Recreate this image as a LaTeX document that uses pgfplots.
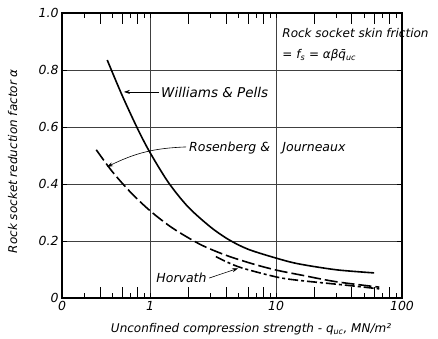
\documentclass[border=0pt]{standalone}
\usepackage{fontspec}
\setmainfont{DejaVu Sans}
\usepackage{pgfplots}
\pgfplotsset{compat=1.18}
\usetikzlibrary{arrows.meta}
\begin{document}
\begin{tikzpicture}[font=\itshape\fontsize{12}{14}\selectfont]
\begin{semilogxaxis}[
  scale only axis, width=340pt, height=285pt,
  xmin=0.2, xmax=100, ymin=0, ymax=1,
  xtick={0.2,0.3,0.5,0.7,0.9,1,3,5,7,9,10,30,50,70,90,100},
  xticklabels={0,,,,,1,,,,,10,,,,,100},
  minor xtick={0.4,0.6,0.8,2,4,6,8,20,40,60,80},
  ytick={0,0.2,0.4,0.6,0.8,1}, yticklabels={0,0.2,0.4,0.6,0.8,1.0},
  tick align=inside, xtick pos=both,
  major tick length=5pt, minor tick length=11pt,
  every tick/.style={black, line width=0.8pt},
  xmajorgrids=false, ymajorgrids=true,
  extra x ticks={1,10}, extra x tick labels={},
  extra x tick style={xmajorgrids=true},
  major grid style={black!75, line width=0.7pt},
  axis line style={line width=1.3pt},
  /pgf/number format/assume math mode=true,
  ticklabel style={font=\itshape\fontsize{12.5}{14}\selectfont},
  xlabel={Unconfined compression strength - q\textsubscript{uc}, MN/m²},
  ylabel={Rock socket reduction factor α},
  xlabel style={at={(axis description cs:0.556,-0.077)}, anchor=north},
  ylabel style={at={(axis description cs:-0.145,0.48)}, anchor=center},
  clip=false,
]
% Williams & Pells
\addplot[black, line width=1.6pt, smooth] coordinates {
 (0.457,0.835) (0.6,0.711) (0.8,0.592) (1.0,0.51) (1.4,0.405) (2.0,0.32)
 (3.0,0.25) (4.2,0.205) (6.0,0.171) (10,0.14) (15,0.12) (30,0.099) (60,0.088)};
% Rosenberg & Journeaux
\addplot[black, line width=1.6pt, smooth, dash pattern=on 13pt off 4pt] coordinates {
 (0.374,0.52) (0.5,0.444) (0.7,0.371) (1,0.306) (1.5,0.246) (2.5,0.188)
 (4,0.15) (6.5,0.12) (10,0.098) (16,0.08) (30,0.057) (66,0.038)};
% Horvath
\addplot[black, line width=1.6pt, smooth, dash pattern=on 10pt off 3pt on 3pt off 3pt] coordinates {
 (3.33,0.145) (5.06,0.109) (10,0.074) (15,0.062) (34,0.046) (66,0.032)};

\draw[-{Stealth[length=6pt,width=4pt]}, line width=0.6pt] (axis cs:1.18,0.723) -- (axis cs:0.62,0.723);
\node[anchor=west, inner sep=1pt, font=\itshape\fontsize{13.5}{15}\selectfont] at (axis cs:1.2,0.722) {Williams \& Pells};
\draw[-{Stealth[length=6pt,width=4pt]}, line width=0.6pt] (axis cs:1.93,0.53) to[bend right=12] (axis cs:0.455,0.46);
\node[anchor=west, inner sep=1pt, font=\itshape\fontsize{12.5}{15}\selectfont] at (axis cs:2.0,0.527) {Rosenberg \&};
\node[anchor=west, inner sep=1pt, font=\itshape\fontsize{12.5}{15}\selectfont] at (axis cs:11,0.527) {Journeaux};
\node[anchor=west, inner sep=1pt, font=\itshape\fontsize{12.5}{15}\selectfont] at (axis cs:1.1,0.07) {Horvath};
\draw[-{Stealth[length=6pt,width=4pt]}, line width=0.6pt] (axis cs:2.95,0.07) -- (axis cs:5.0,0.104);
\node[anchor=west, inner sep=1pt] at (axis cs:11,0.93) {Rock socket skin friction};
\node[anchor=west, inner sep=1pt] at (axis cs:11,0.853) {= f\textsubscript{s} = αβq̄\textsubscript{uc}};
\path (axis description cs:-0.1824,-0.1193) rectangle (axis description cs:1.1059,1.0456);
\end{semilogxaxis}
\end{tikzpicture}
\end{document}
